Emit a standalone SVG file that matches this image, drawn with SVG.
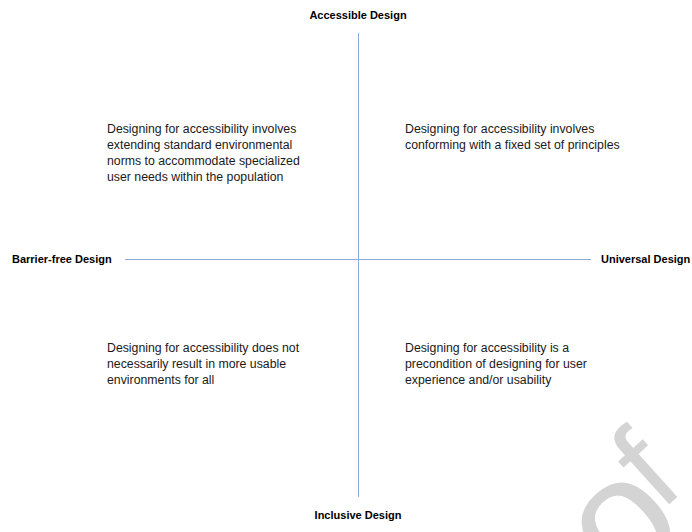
<svg xmlns="http://www.w3.org/2000/svg" width="692" height="532" viewBox="0 0 692 532">
  <style>
    .axis { stroke: #8eaadb; stroke-width: 1; fill: none; }
    .pole { font-family: "Liberation Sans", Arial, sans-serif; font-size: 11px; font-weight: bold; fill: #000; }
    .desc { font-family: "Liberation Sans", Arial, sans-serif; font-size: 12.3px; fill: #1a1a1a; }
    .mark { font-family: "Liberation Sans", Arial, sans-serif; fill: #d4d4d4; }
  </style>
  <rect width="692" height="532" fill="#fff"/>

  <!-- background mark -->
  <text class="mark" transform="translate(621,591) rotate(-42)"><tspan font-size="165">o</tspan><tspan font-size="125" dx="-9" dy="-32">f</tspan></text>

  <!-- axes -->
  <g id="connectors">
    <line class="axis" x1="358.5" y1="33" x2="358.5" y2="497"/>
    <line class="axis" x1="125" y1="259.5" x2="591" y2="259.5"/>
  </g>

  <!-- axis poles -->
  <g id="accessible"><text class="pole" x="358" y="19" text-anchor="middle">Accessible Design</text></g>
  <g id="barrier-free"><text class="pole" x="12" y="263">Barrier-free Design</text></g>
  <g id="universal"><text class="pole" x="601" y="263">Universal Design</text></g>
  <g id="inclusive"><text class="pole" x="358" y="519" text-anchor="middle">Inclusive Design</text></g>

  <!-- quadrant descriptions -->
  <g id="q-top-left">
    <text class="desc" x="107" y="133">Designing for accessibility involves</text>
    <text class="desc" x="107" y="149">extending standard environmental</text>
    <text class="desc" x="107" y="165">norms to accommodate specialized</text>
    <text class="desc" x="107" y="181">user needs within the population</text>
  </g>
  <g id="q-top-right">
    <text class="desc" x="405" y="133">Designing for accessibility involves</text>
    <text class="desc" x="405" y="149">conforming with a fixed set of principles</text>
  </g>
  <g id="q-bottom-left">
    <text class="desc" x="107" y="352">Designing for accessibility does not</text>
    <text class="desc" x="107" y="368">necessarily result in more usable</text>
    <text class="desc" x="107" y="384">environments for all</text>
  </g>
  <g id="q-bottom-right">
    <text class="desc" x="405" y="352">Designing for accessibility is a</text>
    <text class="desc" x="405" y="368">precondition of designing for user</text>
    <text class="desc" x="405" y="384">experience and/or usability</text>
  </g>
</svg>
